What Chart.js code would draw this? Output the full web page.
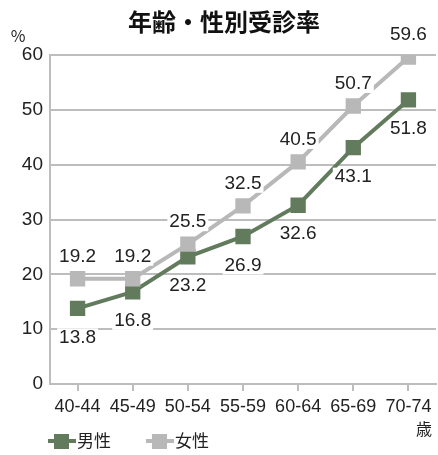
<!DOCTYPE html>
<html>
<head>
<meta charset="utf-8">
<script src="https://cdn.jsdelivr.net/npm/chart.js@4"></script>
<style>
  body { margin: 0; background: #fff; }
  #wrap { width: 438px; height: 455px; }
</style>
</head>
<body>
<div id="wrap"><canvas id="c" width="438" height="455"></canvas></div>
<script>
const ageGroups = ["40-44", "45-49", "50-54", "55-59", "60-64", "65-69", "70-74"];
const maleRates = [13.8, 16.8, 23.2, 26.9, 32.6, 43.1, 51.8];
const femaleRates = [19.2, 19.2, 25.5, 32.5, 40.5, 50.7, 59.6];
const yTicks = [0, 10, 20, 30, 40, 50, 60];

const GREEN = "#637b5d";
const GRAY = "#b8b8b8";
const AXIS = "#bdbdbd";
const NUM_FONT = "'Liberation Sans', Arial, sans-serif";
const JP_FONT = "'Noto Sans CJK JP', sans-serif";

// value labels, title, unit marks and legend
const extras = {
  id: "extras",
  afterDatasetsDraw(chart) {
    const ctx = chart.ctx;
    ctx.save();
    ctx.font = "19px " + NUM_FONT;
    ctx.textAlign = "center";
    ctx.textBaseline = "middle";
    chart.data.datasets.forEach((ds, i) => {
      const meta = chart.getDatasetMeta(i);
      const up = ds.label === "女性";
      meta.data.forEach((pt, j) => {
        const txt = ds.data[j].toFixed(1);
        let x = pt.x;
        const y = up ? pt.y - 22 : pt.y + 29;
        const w = ctx.measureText(txt).width;
        if (x + w / 2 > chart.width - 1) x = chart.width - 1 - w / 2;
        ctx.fillStyle = "#fff";
        ctx.fillRect(x - w / 2 - 2, y - 9, w + 4, 18);
        ctx.fillStyle = "#222";
        ctx.fillText(txt, x, y);
      });
    });
    ctx.restore();
  },
  afterDraw(chart) {
    const ctx = chart.ctx;
    ctx.save();
    ctx.fillStyle = "#111";
    ctx.textBaseline = "middle";
    ctx.textAlign = "center";
    ctx.font = "bold 24px " + JP_FONT;
    ctx.fillText("年齢・性別受診率", 224, 22);
    ctx.font = "16px " + JP_FONT;
    ctx.fillStyle = "#222";
    ctx.fillText("%", 18, 36);
    ctx.fillText("歳", 424, 429);

    // legend
    const items = [
      { label: "男性", color: GREEN, x: 48 },
      { label: "女性", color: GRAY, x: 146 }
    ];
    items.forEach((it) => {
      ctx.strokeStyle = it.color;
      ctx.lineWidth = 4;
      ctx.beginPath();
      ctx.moveTo(it.x, 441);
      ctx.lineTo(it.x + 28, 441);
      ctx.stroke();
      ctx.fillStyle = it.color;
      ctx.fillRect(it.x + 6, 434, 15, 15);
      ctx.fillStyle = "#222";
      ctx.textAlign = "left";
      ctx.font = "17px " + JP_FONT;
      ctx.fillText(it.label, it.x + 29, 441);
    });
    ctx.restore();
  }
};

new Chart(document.getElementById("c"), {
  type: "line",
  data: {
    labels: ageGroups,
    datasets: [
      {
        label: "男性",
        data: maleRates,
        borderColor: GREEN,
        backgroundColor: GREEN,
        borderWidth: 4,
        pointStyle: "rect",
        pointRadius: 8,
        pointHoverRadius: 8,
        order: 1
      },
      {
        label: "女性",
        data: femaleRates,
        borderColor: GRAY,
        backgroundColor: GRAY,
        borderWidth: 4,
        pointStyle: "rect",
        pointRadius: 8,
        pointHoverRadius: 8,
        order: 0
      }
    ]
  },
  options: {
    responsive: false,
    animation: false,
    layout: { autoPadding: false, padding: { top: 55, left: 0, right: 2, bottom: 0 } },
    plugins: {
      legend: { display: false },
      title: { display: false },
      tooltip: { enabled: false }
    },
    scales: {
      x: {
        offset: true,
        grid: {
          drawOnChartArea: false,
          drawTicks: true,
          tickLength: 7,
          color: AXIS,
          lineWidth: 2
        },
        border: { color: AXIS, width: 2 },
        ticks: {
          color: "#222",
          font: { family: NUM_FONT, size: 18 },
          padding: 5,
          maxRotation: 0,
          autoSkip: false
        },
        afterFit: (s) => {
          s.height = 71;
          s.paddingLeft = 0;
          s.paddingRight = 0;
        }
      },
      y: {
        min: 0,
        max: 60,
        afterBuildTicks: (s) => { s.ticks = yTicks.map((v) => ({ value: v })); },
        grid: { color: AXIS, lineWidth: 2, drawTicks: false },
        border: { color: AXIS, width: 2 },
        ticks: {
          color: "#222",
          font: { family: NUM_FONT, size: 19 },
          padding: 7
        },
        afterFit: (s) => {
          s.width = 50;
          s.paddingTop = 0;
          s.paddingBottom = 0;
        }
      }
    }
  },
  plugins: [extras]
});
</script>
</body>
</html>
